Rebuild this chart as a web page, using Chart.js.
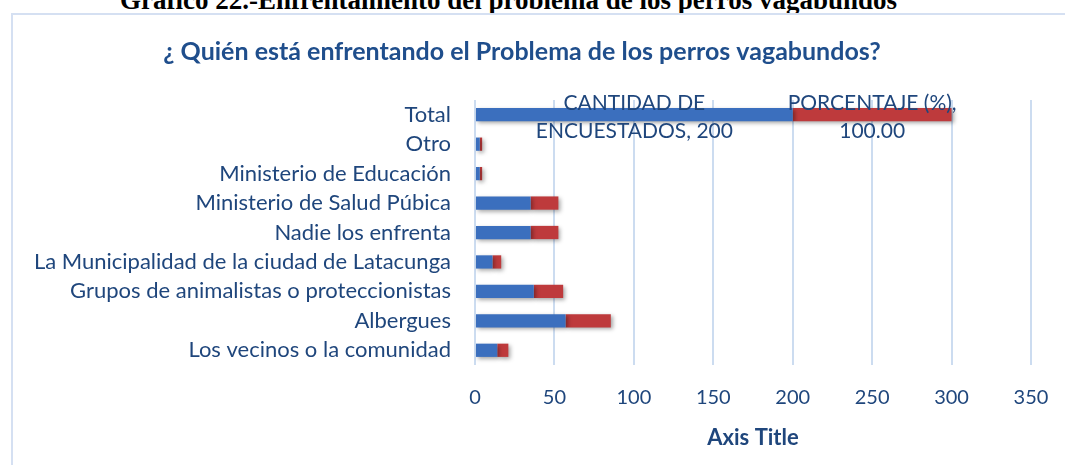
<!DOCTYPE html>
<html>
<head>
<meta charset="utf-8">
<script src="https://cdn.jsdelivr.net/npm/chart.js@4.4.1/dist/chart.umd.min.js"></script>
<style>
  body { margin: 0; background: #fff; overflow: hidden; }
  #encabezado {
    position: absolute; left: 120px; top: -15px;
    font: bold 27px "Liberation Serif", "DejaVu Serif", serif; color: #000;
    white-space: nowrap;
  }
  #marco {
    position: absolute; left: 11px; top: 13px; width: 1060px; height: 460px;
    border-left: 2px solid #D5E0F2; border-top: 2px solid #D5E0F2;
  }
  #contenedor { position: absolute; left: 0; top: 0; width: 1052px; height: 450px; }
</style>
</head>
<body>
<div id="encabezado">Gráfico 22.-Enfrentamiento del problema de los perros vagabundos</div>
<div id="marco">
  <div id="contenedor"><canvas id="grafico"></canvas></div>
</div>
<script>
// Datos
const categorias = ['Total', 'Otro', 'Ministerio de Educación', 'Ministerio de Salud Púbica',
  'Nadie los enfrenta', 'La Municipalidad de la ciudad de Latacunga',
  'Grupos de animalistas o proteccionistas', 'Albergues', 'Los vecinos o la comunidad'];
const series = ['CANTIDAD DE ENCUESTADOS', 'PORCENTAJE (%)'];
const cantidad = [200, 3, 3, 35, 35, 11, 37, 57, 14];
const porcentaje = [100, 1.5, 1.5, 17.5, 17.5, 5.5, 18.5, 28.5, 7];
const ticksX = [0, 50, 100, 150, 200, 250, 300, 350];

const azulTexto = '#1F467C';

// sombra ligera debajo de las barras
const sombra = {
  id: 'sombra',
  beforeDatasetsDraw(chart) {
    const c = chart.ctx;
    c.save();
    c.shadowColor = 'rgba(0,0,0,0.35)';
    c.shadowBlur = 4;
    c.shadowOffsetX = 2;
    c.shadowOffsetY = 2;
  },
  afterDatasetsDraw(chart) {
    chart.ctx.restore();
  }
};

// etiquetas de datos solo para la fila "Total"
const etiquetasTotal = {
  id: 'etiquetasTotal',
  afterDatasetsDraw(chart) {
    const c = chart.ctx;
    c.save();
    c.font = '21px Lato';
    c.fillStyle = azulTexto;
    c.textAlign = 'center';
    c.textBaseline = 'middle';
    chart.data.datasets.forEach((ds, i) => {
      const el = chart.getDatasetMeta(i).data[0];
      const valor = i === 0 ? String(ds.data[0]) : ds.data[0].toFixed(2);
      const texto = ds.label + ', ' + valor;
      // ajuste de línea sencillo
      const palabras = texto.split(' ');
      const lineas = [];
      let actual = '';
      palabras.forEach(p => {
        const prueba = actual ? actual + ' ' + p : p;
        if (c.measureText(prueba).width > 210 && actual) {
          lineas.push(actual);
          actual = p;
        } else {
          actual = prueba;
        }
      });
      lineas.push(actual);
      const cx = (el.x + el.base) / 2;
      lineas.forEach((l, j) => {
        c.fillText(l, cx, el.y - 11 + j * 28);
      });
    });
    c.restore();
  }
};

const ctx = document.getElementById('grafico').getContext('2d');
const grafico = new Chart(ctx, {
  type: 'bar',
  data: {
    labels: categorias,
    datasets: [{
      label: series[0],
      data: cantidad,
      backgroundColor: '#3B6FBE',
      categoryPercentage: 1,
      barPercentage: 0.45
    }, {
      label: series[1],
      data: porcentaje,
      backgroundColor: '#BE3A3C',
      categoryPercentage: 1,
      barPercentage: 0.45
    }]
  },
  options: {
    indexAxis: 'y',
    responsive: true,
    maintainAspectRatio: false,
    animation: false,
    layout: { padding: { left: 0, right: 34, top: 0, bottom: 10 } },
    plugins: {
      legend: { display: false },
      tooltip: { enabled: false },
      title: {
        display: true,
        text: '¿ Quién está enfrentando el Problema de los perros vagabundos?',
        color: '#1F4E8C',
        font: { family: 'Lato', size: 25, weight: 'bold' },
        padding: { top: 22, bottom: 33 }
      }
    },
    scales: {
      x: {
        stacked: true,
        min: 0,
        max: 350,
        afterBuildTicks(scale) {
          scale.ticks = ticksX.map(v => ({ value: v }));
        },
        afterFit(scale) {
          scale.height = 90;
          scale.paddingLeft = 0;
          scale.paddingRight = 0;
        },
        grid: { color: '#CCDCF0', lineWidth: 2, drawTicks: false },
        border: { display: false },
        ticks: { color: azulTexto, font: { family: 'Lato', size: 20 }, padding: 21 },
        title: {
          display: true,
          text: 'Axis Title',
          color: azulTexto,
          font: { family: 'Lato', size: 22, weight: 'bold' }
        }
      },
      y: {
        stacked: true,
        afterFit(scale) { scale.width = 462; },
        grid: { display: false, drawTicks: false },
        border: { display: false },
        ticks: { color: azulTexto, font: { family: 'Lato', size: 22 }, padding: 24, autoSkip: false }
      }
    }
  },
  plugins: [sombra, etiquetasTotal]
});
</script>
</body>
</html>
